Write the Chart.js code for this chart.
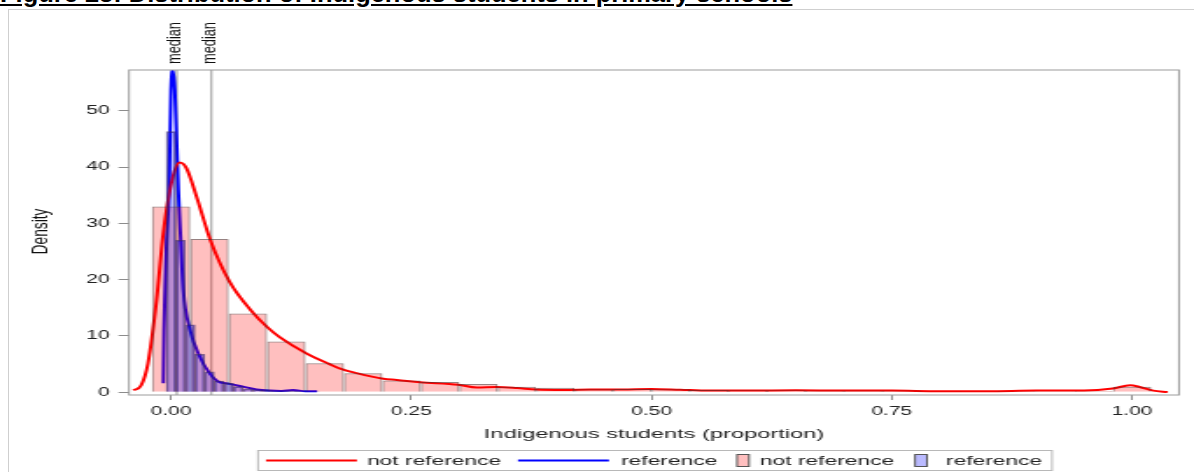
<!DOCTYPE html>
<html>
<head>
<meta charset="utf-8">
<script src="https://cdn.jsdelivr.net/npm/chart.js@4.4.1/dist/chart.umd.min.js"></script>
<style>
  html, body { margin: 0; padding: 0; width: 1194px; height: 472px; overflow: hidden; background: #fff; }
  #frame { position: absolute; left: 8px; top: 9px; width: 1200px; height: 480px; border: 1px solid #cfcfcf; box-sizing: border-box; }
  #caption { position: absolute; left: 0; white-space: nowrap; line-height: 1; color: #000;
             font-family: 'Liberation Sans', Arial, sans-serif; font-weight: bold; text-decoration: underline; }
  #chart { position: absolute; left: 0; top: 0; transform-origin: 0 0; }
</style>
</head>
<body>
<div id="frame"></div>
<div id="caption">Figure 23: Distribution of Indigenous students in primary schools</div>
<canvas id="chart" width="682" height="472"></canvas>
<script>
// Histogram bins (midpoints) and densities
const notRefBinMid = [0.00, 0.04, 0.08, 0.12, 0.16, 0.20, 0.24, 0.28, 0.32, 0.36, 0.40, 0.44, 0.48,
                      0.52, 0.56, 0.60, 0.64, 0.68, 0.72, 0.76, 0.80, 0.84, 0.88, 0.92, 0.96, 1.00];
const notRefBinDensity = [33.0, 27.2, 14.0, 9.0, 5.15, 3.37, 2.1, 1.83, 1.47, 1.0, 0.82, 0.53, 0.6,
                          0.55, 0.4, 0.35, 0.35, 0.3, 0.3, 0.3, 0.2, 0.2, 0.25, 0.2, 0.25, 0.98];
const refBinMid = [0.00, 0.01, 0.02, 0.03, 0.04, 0.05, 0.06, 0.07, 0.08, 0.09, 0.10, 0.11, 0.12, 0.13, 0.14, 0.15];
const refBinDensity = [46.3, 27.0, 12.0, 6.75, 3.65, 2.0, 1.6, 1.0, 0.6, 0.45, 0.3, 0.2, 0.25, 0.15, 0.1, 0.1];

// Kernel density curves
const notRefCurveX = [-0.039, -0.031, -0.024, -0.015, -0.008, 0.002, 0.009, 0.016, 0.027, 0.041, 0.061, 0.086,
                      0.100, 0.113, 0.141, 0.165, 0.176, 0.193, 0.221, 0.235, 0.259, 0.299, 0.318, 0.339,
                      0.360, 0.380, 0.408, 0.436, 0.470, 0.500, 0.530, 0.560, 0.600, 0.650, 0.700, 0.750,
                      0.800, 0.850, 0.900, 0.950, 0.980, 0.998, 1.008, 1.022, 1.037];
const notRefCurveY = [0.35, 1.25, 5.1, 16.4, 28.3, 38.3, 40.8, 39.8, 34.5, 27.0, 19.6, 14.0,
                      11.6, 9.8, 6.9, 5.0, 4.2, 3.4, 2.4, 2.2, 1.8, 1.35, 0.85, 0.95,
                      0.77, 0.5, 0.42, 0.48, 0.5, 0.6, 0.45, 0.3, 0.3, 0.35, 0.3, 0.3,
                      0.2, 0.2, 0.3, 0.3, 0.66, 1.25, 0.95, 0.3, 0.05];
const refCurveX = [-0.008, -0.0073, -0.0062, -0.0046, -0.002, 0.0, 0.002, 0.004, 0.0076, 0.0101, 0.0128,
                   0.0198, 0.030, 0.040, 0.048, 0.061, 0.075, 0.089, 0.103, 0.115, 0.127, 0.140, 0.152];
const refCurveY = [1.6, 11.1, 18.2, 27.0, 35.9, 53.7, 57.2, 53.7, 35.9, 27.0, 18.2,
                   11.1, 6.3, 3.4, 2.0, 1.5, 1.0, 0.5, 0.3, 0.25, 0.4, 0.2, 0.2];

// Medians of each group
const medianValues = [0.006, 0.042];
const medianLabels = ['median', 'median'];

// Axes
const xTickValues = [0, 0.25, 0.5, 0.75, 1];
const xTickLabels = ['0.00', '0.25', '0.50', '0.75', '1.00'];
const yTickValues = [0, 10, 20, 30, 40, 50];
const seriesNames = ['not reference', 'reference'];
const xTitle = 'Indigenous students (proportion)';
const yTitle = 'Density';

const NOT_REF_BIN = 0.04;
const REF_BIN = 0.01;

// The drawing is made on a narrow canvas and widened horizontally on the page.
const PAGE_W = 1194;
const CANVAS_W = 682;
const STRETCH = PAGE_W / CANVAS_W;
const ROTATED_WIDEN = 1.55;
const FONT = "'Liberation Sans', Arial, sans-serif";
const INK = '#222';

// Caption: sized to its printed width, mostly above the top edge of the page.
(function () {
  const cap = document.getElementById('caption');
  cap.style.fontSize = '20px';
  const f = 20 * 793 / cap.getBoundingClientRect().width;
  cap.style.fontSize = f + 'px';
  cap.style.top = (2.5 - 0.8465 * f) + 'px';
})();

const canvas = document.getElementById('chart');
canvas.style.transform = 'scaleX(' + STRETCH + ')';

const toPoints = (xs, ys) => xs.map((x, i) => ({ x: x, y: ys[i] }));

const overlay = {
  id: 'overlay',
  beforeDatasetsDraw(chart) {
    const { ctx, chartArea, scales } = chart;
    ctx.save();
    ctx.strokeStyle = '#a8a8a8';
    ctx.lineWidth = 1.2;
    medianValues.forEach(m => {
      const px = scales.x.getPixelForValue(m);
      ctx.beginPath();
      ctx.moveTo(px, chartArea.top);
      ctx.lineTo(px, chartArea.bottom);
      ctx.stroke();
    });
    ctx.restore();
  },
  afterDatasetsDraw(chart) {
    const { ctx, chartArea } = chart;
    ctx.save();
    ctx.strokeStyle = '#9c9c9c';
    ctx.lineWidth = 1;
    ctx.strokeRect(chartArea.left, chartArea.top, chartArea.right - chartArea.left, chartArea.bottom - chartArea.top);
    ctx.restore();
  },
  afterDraw(chart) {
    const { ctx, chartArea, scales } = chart;
    // vertical labels above the median lines
    medianValues.forEach((m, i) => {
      const px = scales.x.getPixelForValue(m);
      ctx.save();
      ctx.translate(px + 3.5 / STRETCH, 64);
      ctx.scale(ROTATED_WIDEN / STRETCH, 1);
      ctx.rotate(-Math.PI / 2);
      ctx.font = '12.8px ' + FONT;
      ctx.fillStyle = '#111';
      ctx.textAlign = 'left';
      ctx.textBaseline = 'alphabetic';
      ctx.fillText(medianLabels[i], 0, 0);
      ctx.restore();
    });
    // y axis title
    ctx.save();
    ctx.translate(47 / STRETCH, (chartArea.top + chartArea.bottom) / 2 - 1);
    ctx.scale(ROTATED_WIDEN / STRETCH, 1);
    ctx.rotate(-Math.PI / 2);
    ctx.font = '13.8px ' + FONT;
    ctx.fillStyle = '#111';
    ctx.textAlign = 'center';
    ctx.textBaseline = 'alphabetic';
    ctx.fillText(yTitle, 0, 0);
    ctx.restore();

    // legend
    const ds = chart.data.datasets;
    ctx.save();
    ctx.strokeStyle = '#b8b8b8';
    ctx.lineWidth = 1;
    ctx.strokeRect(258 / STRETCH, 450.5, (1052 - 258) / STRETCH, 20);
    const items = [
      { i: 0, kind: 'line', a: 266, b: 357, t: 367 },
      { i: 1, kind: 'line', a: 518, b: 609, t: 621 },
      { i: 2, kind: 'box', a: 737, b: 749, t: 760 },
      { i: 3, kind: 'box', a: 915, b: 927, t: 946 }
    ];
    ctx.font = '13px ' + FONT;
    ctx.textBaseline = 'middle';
    ctx.textAlign = 'left';
    items.forEach(it => {
      const d = ds[it.i];
      if (it.kind === 'line') {
        ctx.strokeStyle = d.borderColor;
        ctx.lineWidth = 2;
        ctx.beginPath();
        ctx.moveTo(it.a / STRETCH, 460.5);
        ctx.lineTo(it.b / STRETCH, 460.5);
        ctx.stroke();
      } else {
        ctx.fillStyle = d.backgroundColor;
        ctx.fillRect(it.a / STRETCH, 454.5, (it.b - it.a) / STRETCH, 12);
        ctx.strokeStyle = '#555';
        ctx.lineWidth = 1;
        ctx.strokeRect(it.a / STRETCH, 454.5, (it.b - it.a) / STRETCH, 12);
      }
      ctx.fillStyle = INK;
      ctx.fillText(d.label, it.t / STRETCH, 461);
    });
    ctx.restore();
  }
};

new Chart(canvas, {
  type: 'line',
  data: {
    datasets: [
      {
        type: 'line', label: seriesNames[0], order: 3,
        data: toPoints(notRefCurveX, notRefCurveY),
        borderColor: '#ff0000', borderWidth: 2, pointRadius: 0,
        cubicInterpolationMode: 'monotone', fill: false
      },
      {
        type: 'line', label: seriesNames[1], order: 4,
        data: toPoints(refCurveX, refCurveY),
        borderColor: '#0000ff', borderWidth: 2, pointRadius: 0,
        cubicInterpolationMode: 'monotone', fill: false
      },
      {
        type: 'bar', label: seriesNames[0], order: 2,
        data: toPoints(notRefBinMid, notRefBinDensity),
        grouped: false, categoryPercentage: 1, barPercentage: NOT_REF_BIN / REF_BIN,
        backgroundColor: 'rgba(255,0,0,0.25)', borderColor: 'rgba(80,45,45,0.6)',
        borderWidth: 1
      },
      {
        type: 'bar', label: seriesNames[1], order: 1,
        data: toPoints(refBinMid, refBinDensity),
        grouped: false, categoryPercentage: 1, barPercentage: 1,
        backgroundColor: 'rgba(0,0,255,0.27)', borderColor: 'rgba(50,35,100,0.6)',
        borderWidth: 1
      }
    ]
  },
  options: {
    responsive: false,
    animation: false,
    events: [],
    layout: { padding: { left: 0, right: CANVAS_W - 1179 / STRETCH, top: 70, bottom: 30 } },
    plugins: { legend: { display: false }, tooltip: { enabled: false }, title: { display: false } },
    scales: {
      x: {
        type: 'linear', min: -0.0437, max: 1.0489, offset: false,
        grid: { display: true, drawOnChartArea: false, drawTicks: true, tickLength: 5, tickColor: '#8c8c8c', offset: false },
        border: { display: false },
        afterBuildTicks: s => { s.ticks = xTickValues.map(v => ({ value: v })); },
        ticks: { autoSkip: false, maxRotation: 0, padding: 4, color: INK, font: { family: FONT, size: 12 },
                 callback: (v, i) => xTickLabels[i] },
        title: { display: true, text: xTitle, color: INK, font: { family: FONT, size: 13.5 }, padding: { top: 0, bottom: 0 } },
        afterFit: s => { s.height = 47; }
      },
      y: {
        type: 'linear', min: -0.48, max: 57.23,
        grid: { display: true, drawOnChartArea: false, drawTicks: true, tickLength: 6, tickColor: '#8c8c8c' },
        border: { display: false },
        afterBuildTicks: s => { s.ticks = yTickValues.map(v => ({ value: v })); },
        ticks: { autoSkip: false, padding: 5, color: INK, font: { family: FONT, size: 12 },
                 callback: v => String(v) },
        afterFit: s => { s.width = 129 / STRETCH; }
      }
    }
  },
  plugins: [overlay]
});
</script>
</body>
</html>
